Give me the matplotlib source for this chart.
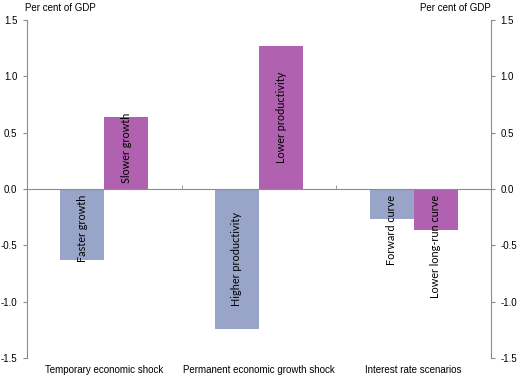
import numpy as np
import matplotlib
matplotlib.use('Agg')
import matplotlib.pyplot as plt
from matplotlib.ticker import FixedLocator, StrMethodFormatter

plt.rcParams['font.family'] = ['Liberation Sans', 'DejaVu Sans']
plt.rcParams['axes.unicode_minus'] = False

# data
categories = ['Temporary economic shock', 'Permanent economic growth shock', 'Interest rate scenarios']
first_vals = [-0.63, -1.24, -0.27]
second_vals = [0.64, 1.27, -0.36]
first_names = ['Faster growth', 'Higher productivity', 'Forward curve']
second_names = ['Slower growth', 'Lower productivity', 'Lower long-run curve']

blue = '#98a5c8'
purple = '#b061b0'
grey = '#8c8c8c'

fig = plt.figure(figsize=(5.23, 3.82), dpi=100)
ax = fig.add_axes([0.0516, 0.0628, 0.8872, 0.8848])

x = np.arange(len(categories))
w = 0.285
ax.bar(x - w / 2, first_vals, w, color=blue)
ax.bar(x + w / 2, second_vals, w, color=purple)

ax.set_xlim(-0.5, 2.5)
ax.set_ylim(-1.5, 1.5)
ax.yaxis.set_major_locator(FixedLocator(np.arange(-1.5, 1.51, 0.5)))
ax.yaxis.set_major_formatter(StrMethodFormatter('{x:.1f}'))
ax.tick_params(axis='y', which='both', left=True, right=True, labelleft=True, labelright=True,
               direction='out', length=3, color=grey, labelsize=7, pad=4)

# zero line with boundary ticks pointing up
ax.spines['bottom'].set_position(('data', 0))
ax.spines['top'].set_visible(False)
for s in ['bottom', 'left', 'right']:
    ax.spines[s].set_color(grey)
    ax.spines[s].set_linewidth(0.8)
ax.set_xticks([])
ax.set_xticks([0.5, 1.5], minor=True)
ax.tick_params(axis='x', which='minor', direction='in', length=3, color=grey)

# category labels along the bottom
sec = ax.secondary_xaxis(0)
sec.set_xticks(x)
sec.set_xticklabels(categories)
sec.spines['bottom'].set_visible(False)
sec.tick_params(length=0, labelsize=7, pad=5)

ax.text(-0.005, 1.02, 'Per cent of GDP', transform=ax.transAxes, fontsize=7, ha='left', va='bottom')
ax.text(1.0, 1.02, 'Per cent of GDP', transform=ax.transAxes, fontsize=7, ha='right', va='bottom')

# labels inside bars, centred but kept clear of the zero line
fig.canvas.draw()
r = fig.canvas.get_renderer()
px_per_unit = ax.get_window_extent().height / 3.0
pad = 6
for xs, vals, names in [(x - w / 2, first_vals, first_names), (x + w / 2, second_vals, second_names)]:
    for xi, v, name in zip(xs, vals, names):
        t = ax.text(xi, 0, name, rotation=90, ha='center', va='center', fontsize=7.8,
                    family=['Lato', 'DejaVu Sans'])
        half = t.get_window_extent(r).height / 2
        off = max(abs(v) * px_per_unit / 2, half + pad)
        t.set_y(np.sign(v) * off / px_per_unit)

fig.savefig('out.png', dpi=100)
